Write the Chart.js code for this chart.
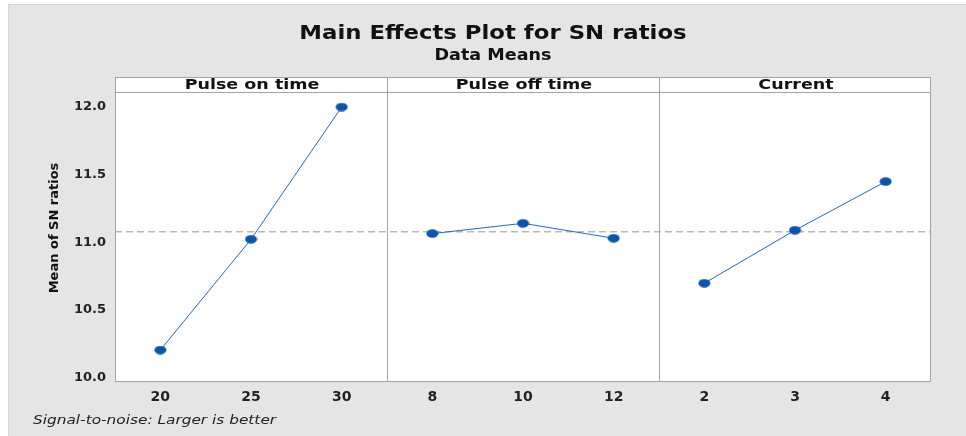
<!DOCTYPE html>
<html>
<head>
<meta charset="utf-8">
<script src="https://cdn.jsdelivr.net/npm/chart.js@4"></script>
<style>
  html, body { margin: 0; padding: 0; background: #ffffff; }
  #wrap { width: 966px; height: 436px; position: relative; }
</style>
</head>
<body>
<div id="wrap"><canvas id="chart" width="966" height="436"></canvas></div>
<script>
// factors and their levels
const factors = ['Pulse on time', 'Pulse off time', 'Current'];
const levels = [
  ['20', '25', '30'],
  ['8', '10', '12'],
  ['2', '3', '4']
];
// mean SN ratios
const pulseOnMeans = [10.204, 11.021, 11.997];
const pulseOffMeans = [11.063, 11.139, 11.029];
const currentMeans = [10.697, 11.088, 11.447];
const yTicks = [10.0, 10.5, 11.0, 11.5, 12.0];

const allMeans = [pulseOnMeans, pulseOffMeans, currentMeans];
const grandMean = pulseOnMeans.concat(pulseOffMeans, currentMeans)
  .reduce((a, b) => a + b, 0) / 9;

const blue = '#0b56a8';

// the source picture is stretched sideways, so the dots are flat ellipses
const dot = document.createElement('canvas');
dot.width = 13;
dot.height = 9;
const dctx = dot.getContext('2d');
dctx.fillStyle = blue;
dctx.beginPath();
dctx.ellipse(6.5, 4.5, 6, 4.2, 0, 0, Math.PI * 2);
dctx.fill();

const datasets = allMeans.map((vals, p) => ({
  label: factors[p],
  data: vals.map((v, i) => ({ x: p * 3 + i, y: v })),
  borderColor: '#2468bb',
  borderWidth: 1,
  pointStyle: dot,
  pointRadius: 5,
  pointHoverRadius: 5,
  tension: 0
}));

datasets.push({
  label: 'mean',
  data: [{ x: -0.5, y: grandMean }, { x: 8.5, y: grandMean }],
  borderColor: '#969696',
  borderWidth: 1,
  borderDash: [7, 4],
  pointRadius: 0
});

// text drawn wider than normal, like the stretched original
function wide(ctx, text, x, y, sx, align) {
  ctx.save();
  ctx.translate(x, y);
  ctx.scale(sx, 1);
  ctx.textAlign = align || 'center';
  ctx.fillText(text, 0, 0);
  ctx.restore();
}

const frame = {
  id: 'frame',
  beforeDraw(chart) {
    const ctx = chart.ctx;
    ctx.save();
    ctx.fillStyle = '#ffffff';
    ctx.fillRect(0, 0, chart.width, chart.height);
    ctx.fillStyle = '#e5e5e5';
    ctx.fillRect(8, 4, chart.width - 8, chart.height - 4);
    ctx.fillStyle = '#d6d6d6';
    ctx.fillRect(8, 4, chart.width - 8, 1);
    ctx.fillRect(8, 4, 1, chart.height - 4);

    const a = chart.chartArea;
    ctx.fillStyle = '#ffffff';
    ctx.fillRect(a.left, a.top - 15, a.right - a.left, a.bottom - a.top + 15);

    // titles
    ctx.fillStyle = '#111111';
    ctx.textBaseline = 'middle';
    ctx.font = 'bold 19px "DejaVu Sans"';
    wide(ctx, 'Main Effects Plot for SN ratios', 493, 34, 1.2);
    ctx.font = 'bold 15px "DejaVu Sans"';
    wide(ctx, 'Data Means', 493, 56, 1.17);

    ctx.font = 'italic 13px "DejaVu Sans"';
    ctx.fillStyle = '#222222';
    wide(ctx, 'Signal-to-noise: Larger is better', 33, 421, 1.18, 'left');

    // y axis title
    ctx.save();
    ctx.translate(55, 228);
    ctx.rotate(-Math.PI / 2);
    ctx.textAlign = 'center';
    ctx.fillStyle = '#111111';
    ctx.font = 'bold 13px "DejaVu Sans"';
    ctx.fillText('Mean of SN ratios', 0, 0);
    ctx.restore();
    ctx.restore();
  },
  afterDraw(chart) {
    const ctx = chart.ctx;
    const a = chart.chartArea;
    const xs = chart.scales.x;
    ctx.save();
    ctx.strokeStyle = '#a3a3a3';
    ctx.lineWidth = 1;
    ctx.strokeRect(a.left + 0.5, a.top - 15 + 0.5, a.right - a.left - 1, a.bottom - a.top + 15 - 1);
    ctx.beginPath();
    ctx.moveTo(a.left, a.top + 0.5);
    ctx.lineTo(a.right, a.top + 0.5);
    for (let p = 1; p < 3; p++) {
      const px = Math.round(xs.getPixelForValue(p * 3 - 0.5)) + 0.5;
      ctx.moveTo(px, a.top - 15);
      ctx.lineTo(px, a.bottom);
    }
    ctx.stroke();
    ctx.fillStyle = '#111111';
    ctx.textBaseline = 'middle';
    ctx.font = 'bold 14px "DejaVu Sans"';
    for (let p = 0; p < 3; p++) {
      const cx = xs.getPixelForValue(p * 3 + 1);
      wide(ctx, factors[p], cx + 1, a.top - 7, 1.25);
    }
    ctx.restore();
  }
};

new Chart(document.getElementById('chart'), {
  type: 'line',
  data: { datasets },
  plugins: [frame],
  options: {
    responsive: false,
    animation: false,
    layout: { padding: { left: 0, right: 35, top: 92, bottom: 0 } },
    plugins: {
      legend: { display: false },
      tooltip: { enabled: false }
    },
    scales: {
      x: {
        type: 'linear',
        min: -0.5,
        max: 8.5,
        afterFit(scale) { scale.height = 54; },
        afterBuildTicks(scale) {
          scale.ticks = [0, 1, 2, 3, 4, 5, 6, 7, 8].map(v => ({ value: v }));
        },
        ticks: {
          callback: v => levels[Math.floor(v / 3)][v % 3],
          color: '#222222',
          font: { family: 'DejaVu Sans', size: 14, weight: 'bold' },
          padding: 2,
          maxRotation: 0
        },
        grid: { display: false, drawTicks: true, tickLength: 5, color: '#a3a3a3' },
        border: { display: false }
      },
      y: {
        min: 9.968,
        max: 12.108,
        afterFit(scale) { scale.width = 115; },
        afterBuildTicks(scale) {
          scale.ticks = yTicks.map(v => ({ value: v }));
        },
        ticks: {
          callback: v => v.toFixed(1),
          color: '#222222',
          font: { family: 'DejaVu Sans', size: 13, weight: 'bold' },
          padding: 4
        },
        grid: { display: false, drawTicks: true, tickLength: 5, color: '#a3a3a3' },
        border: { display: false }
      }
    }
  }
});
</script>
</body>
</html>
